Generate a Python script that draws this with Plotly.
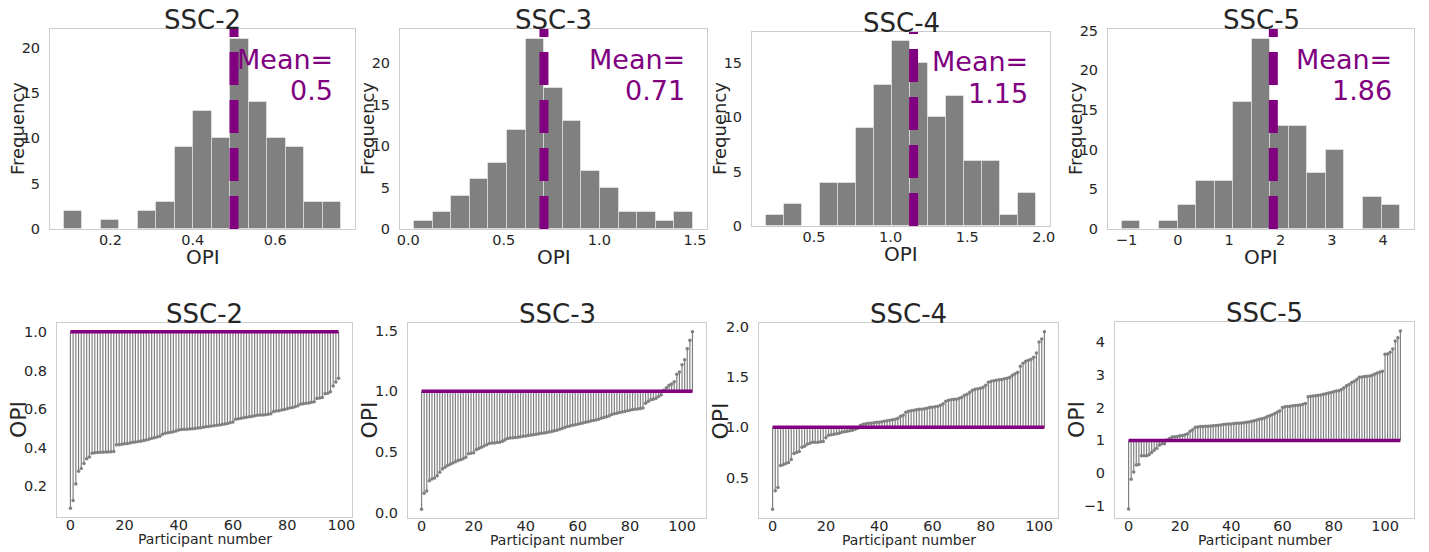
import numpy as np
import plotly.graph_objects as go

# ---------------- data ----------------
names = ["SSC-2", "SSC-3", "SSC-4", "SSC-5"]
mean_values = [0.5, 0.71, 1.15, 1.86]

# histogram counts (15 bins between min and max of each series)
counts_ssc2 = [2, 0, 1, 0, 2, 3, 9, 13, 10, 21, 14, 10, 9, 3, 3]
counts_ssc3 = [1, 2, 4, 6, 8, 12, 23, 17, 13, 7, 5, 2, 2, 1, 2]
counts_ssc4 = [1, 2, 0, 4, 4, 9, 13, 17, 15, 10, 12, 6, 6, 1, 3]
counts_ssc5 = [1, 0, 1, 3, 6, 6, 16, 24, 13, 13, 7, 10, 0, 4, 3]

# sorted OPI per participant
opi_ssc2 = [0.087, 0.127, 0.212, 0.278, 0.292, 0.318, 0.343, 0.352,
            0.372, 0.374, 0.375, 0.376, 0.377, 0.378, 0.378, 0.379, 0.38,
            0.415, 0.416, 0.418, 0.42, 0.422, 0.425, 0.428, 0.43, 0.432, 0.434, 0.437, 0.44, 0.444,
            0.449, 0.452, 0.455, 0.46, 0.47, 0.475, 0.478, 0.48, 0.483, 0.486,
            0.492, 0.494, 0.495, 0.496, 0.497, 0.498, 0.5, 0.502, 0.504, 0.506, 0.508,
            0.51, 0.512, 0.514, 0.516, 0.518, 0.52, 0.523, 0.526, 0.529, 0.533,
            0.548, 0.55, 0.552, 0.555, 0.558, 0.56, 0.562, 0.565, 0.568, 0.569, 0.57, 0.571, 0.573, 0.576,
            0.588, 0.59, 0.592, 0.595, 0.598, 0.602, 0.605, 0.608, 0.612, 0.617,
            0.626, 0.628, 0.63, 0.632, 0.635, 0.638, 0.655, 0.657, 0.66,
            0.68, 0.682, 0.69,
            0.72, 0.74, 0.76]

opi_ssc3 = [0.03,
            0.16, 0.18,
            0.264, 0.278, 0.286, 0.305,
            0.333, 0.36, 0.375, 0.39, 0.40, 0.41,
            0.42, 0.43, 0.436, 0.444, 0.458, 0.486, 0.49, 0.495,
            0.52, 0.53, 0.54, 0.55, 0.56, 0.57, 0.575, 0.575, 0.578, 0.58, 0.59, 0.60,
            0.612, 0.615, 0.618, 0.62, 0.623, 0.626, 0.63, 0.633, 0.636, 0.64, 0.643, 0.646,
            0.65, 0.654, 0.658, 0.662, 0.666, 0.67, 0.675, 0.68, 0.688, 0.695, 0.703,
            0.71, 0.715, 0.72, 0.725, 0.73, 0.735, 0.74, 0.745, 0.75, 0.755, 0.76, 0.765,
            0.77, 0.778, 0.785, 0.79, 0.797,
            0.81, 0.815, 0.82, 0.825, 0.83, 0.835, 0.84, 0.845, 0.85, 0.852, 0.855, 0.858, 0.862,
            0.903, 0.917, 0.93, 0.936, 0.944, 0.958, 0.972,
            1.01, 1.03, 1.05, 1.06, 1.08,
            1.14, 1.16,
            1.22, 1.26,
            1.35,
            1.42, 1.49]

opi_ssc4 = [0.184,
            0.368, 0.40,
            0.62, 0.626, 0.64, 0.648,
            0.68, 0.74, 0.75, 0.76,
            0.80, 0.81, 0.83, 0.84, 0.85, 0.85, 0.852, 0.855, 0.858,
            0.895, 0.92, 0.925, 0.93, 0.935, 0.94, 0.95, 0.955, 0.96, 0.965, 0.97, 0.98, 0.99,
            1.02, 1.03, 1.035, 1.04, 1.04, 1.045, 1.05, 1.05, 1.055, 1.06, 1.065, 1.07, 1.075,
            1.08, 1.09, 1.11, 1.12,
            1.15, 1.16, 1.165, 1.17, 1.175, 1.18, 1.18, 1.185, 1.19, 1.2, 1.2, 1.205, 1.21, 1.22, 1.235,
            1.26, 1.27, 1.275, 1.28, 1.28, 1.29, 1.30, 1.32, 1.33, 1.35,
            1.37, 1.38, 1.385, 1.39, 1.40, 1.42, 1.45, 1.46, 1.465, 1.47, 1.475, 1.478,
            1.485, 1.49, 1.50, 1.52, 1.535, 1.55,
            1.61, 1.64, 1.66, 1.67, 1.68, 1.70,
            1.74,
            1.85, 1.88, 1.952]

opi_ssc5 = [-1.09,
            -0.18,
            0.04, 0.25, 0.27,
            0.53, 0.53, 0.53, 0.56, 0.63, 0.70,
            0.76, 0.85, 0.90, 0.90, 1.01, 1.06,
            1.10, 1.11, 1.12, 1.14, 1.15, 1.17, 1.20, 1.28, 1.32, 1.40, 1.41, 1.42, 1.42, 1.43, 1.43, 1.435,
            1.445, 1.45, 1.46, 1.47, 1.48, 1.49, 1.50, 1.50, 1.51, 1.52, 1.52, 1.53, 1.54, 1.55,
            1.56, 1.58, 1.60, 1.62, 1.64, 1.66, 1.68, 1.72, 1.75, 1.78,
            1.82, 1.86, 1.90, 2.00, 2.02, 2.03, 2.04, 2.05, 2.06, 2.07, 2.08, 2.10, 2.12,
            2.33, 2.34, 2.35, 2.36, 2.37, 2.38, 2.40, 2.42, 2.44, 2.46, 2.48, 2.50, 2.51,
            2.55, 2.60, 2.66, 2.70, 2.76, 2.80, 2.85,
            2.92, 2.93, 2.94, 2.95, 2.96, 2.98, 3.02, 3.05, 3.08, 3.10,
            3.62, 3.63, 3.68, 3.78,
            4.02, 4.12, 4.33]

all_counts = [counts_ssc2, counts_ssc3, counts_ssc4, counts_ssc5]
all_opi = [opi_ssc2, opi_ssc3, opi_ssc4, opi_ssc5]
mean_labels = ["0.5", "0.71", "1.15", "1.86"]

# tick settings
hist_x_dtick = [0.2, 0.5, 0.5, 1]
hist_x_fmt = [".1f", ".1f", ".1f", "d"]
stem_y_dtick = [0.2, 0.5, 0.5, 1]
stem_y_fmt = [".1f", ".1f", ".1f", "d"]

# ---------------- layout constants (page pixels) ----------------
PAGE_W, PAGE_H = 1429, 552
OFF = 8                      # default body margin of the html page
W, H = PAGE_W - OFF, PAGE_H - OFF
TOP = [(50, 355, 29, 229), (400, 707, 29, 229), (752, 1050, 32, 226), (1108, 1414, 29, 229)]
BOT = [(57, 352, 323, 517), (408, 706, 323, 518), (759, 1058, 323, 518), (1115, 1414, 322, 518)]
MEAN_RIGHT = [335, 687, 1030, 1394]

FONT = "DejaVu Sans"
DARK = "#262626"
PURPLE = "#800080"
GRAY = "#808080"


def px(x):
    return (x - OFF) / W


def py(y):
    return 1 - (y - OFF) / H


fig = go.Figure()
layout = {}
annotations = []

axis_common = dict(showgrid=False, zeroline=False, showline=True, linecolor="#cccccc",
                   linewidth=1, mirror=True, ticks="", automargin=False,
                   tickfont=dict(family=FONT, size=14.5, color=DARK))

for k in range(4):
    vals = np.array(all_opi[k], dtype=float)
    cnts = np.array(all_counts[k])
    n = len(vals)
    lo, hi = vals.min(), vals.max()
    edges = np.linspace(lo, hi, len(cnts) + 1)
    centers = (edges[:-1] + edges[1:]) / 2
    bw = edges[1] - edges[0]

    # ---- top: histogram ----
    ta = k + 1
    xa, ya = f"x{ta}", f"y{ta}"
    ymax = cnts.max() * 1.05
    fig.add_trace(go.Bar(x=centers, y=cnts, width=bw, xaxis=xa, yaxis=ya,
                         marker=dict(color=GRAY, line=dict(color="rgba(255,255,255,0.45)", width=1)),
                         showlegend=False))
    fig.add_trace(go.Scatter(x=[mean_values[k], mean_values[k]], y=[0, ymax], xaxis=xa, yaxis=ya,
                             mode="lines", line=dict(color=PURPLE, width=9, dash="33px,15px"),
                             showlegend=False))
    l, r, t, b = TOP[k]
    span = hi - lo
    layout[f"xaxis{ta}"] = dict(axis_common, domain=[px(l), px(r)], anchor=ya,
                                range=[lo - 0.05 * span, hi + 0.05 * span],
                                dtick=hist_x_dtick[k], tick0=0, tickformat=hist_x_fmt[k],
                                ticklabelstandoff=-2)
    layout[f"yaxis{ta}"] = dict(axis_common, domain=[py(b), py(t)], anchor=xa,
                                range=[0, ymax], dtick=5, tick0=0, ticklabelstandoff=6)
    cx = (l + r) / 2
    annotations += [
        dict(text=names[k], x=px(cx), y=py(t - 9), xref="paper", yref="paper",
             xanchor="center", yanchor="middle", showarrow=False,
             font=dict(family=FONT, size=26, color=DARK)),
        dict(text="OPI", x=px(cx), y=py(b + 28), xref="paper", yref="paper",
             xanchor="center", yanchor="middle", showarrow=False,
             font=dict(family=FONT, size=20, color=DARK)),
        dict(text="Frequency", x=px(l - 33), y=py((t + b) / 2), xref="paper", yref="paper",
             xanchor="center", yanchor="middle", textangle=-90, showarrow=False,
             font=dict(family=FONT, size=18, color=DARK)),
        dict(text="Mean=", x=px(MEAN_RIGHT[k]), y=py(t + 30), xref="paper", yref="paper",
             xanchor="right", yanchor="middle", showarrow=False,
             font=dict(family=FONT, size=27, color=PURPLE)),
        dict(text=mean_labels[k], x=px(MEAN_RIGHT[k]), y=py(t + 61), xref="paper", yref="paper",
             xanchor="right", yanchor="middle", showarrow=False,
             font=dict(family=FONT, size=27, color=PURPLE)),
    ]

    # ---- bottom: stem plot ----
    ba = k + 5
    xb, yb = f"x{ba}", f"y{ba}"
    idx = np.arange(n)
    sx, sy = [], []
    for i, v in zip(idx, vals):
        sx += [i, i, None]
        sy += [1.0, v, None]
    fig.add_trace(go.Scatter(x=sx, y=sy, xaxis=xb, yaxis=yb, mode="lines",
                             line=dict(color=GRAY, width=1.2), showlegend=False))
    fig.add_trace(go.Scatter(x=idx, y=vals, xaxis=xb, yaxis=yb, mode="markers",
                             marker=dict(color=GRAY, size=3.5), showlegend=False))
    fig.add_trace(go.Scatter(x=[idx[0], idx[-1]], y=[1.0, 1.0], xaxis=xb, yaxis=yb, mode="lines",
                             line=dict(color=PURPLE, width=3.5), showlegend=False))
    l, r, t, b = BOT[k]
    lo2, hi2 = min(lo, 1.0), max(hi, 1.0)
    pad = 0.05 * (hi2 - lo2)
    layout[f"xaxis{ba}"] = dict(axis_common, domain=[px(l), px(r)], anchor=yb,
                                range=[-0.05 * (n - 1), 1.05 * (n - 1)], dtick=20, tick0=0,
                                ticklabelstandoff=-5)
    layout[f"yaxis{ba}"] = dict(axis_common, domain=[py(b), py(t)], anchor=xb,
                                range=[lo2 - pad, hi2 + pad], dtick=stem_y_dtick[k], tick0=0,
                                tickformat=stem_y_fmt[k], ticklabelstandoff=6)
    cx = (l + r) / 2
    annotations += [
        dict(text=names[k], x=px(cx), y=py(t - 9), xref="paper", yref="paper",
             xanchor="center", yanchor="middle", showarrow=False,
             font=dict(family=FONT, size=26, color=DARK)),
        dict(text="Participant number", x=px(cx), y=py(b + 22), xref="paper", yref="paper",
             xanchor="center", yanchor="middle", showarrow=False,
             font=dict(family=FONT, size=14, color=DARK)),
        dict(text="OPI", x=px(l - 39), y=py((t + b) / 2), xref="paper", yref="paper",
             xanchor="center", yanchor="middle", textangle=-90, showarrow=False,
             font=dict(family=FONT, size=22, color=DARK)),
    ]

fig.update_layout(width=W, height=H, margin=dict(l=0, r=0, t=0, b=0),
                  paper_bgcolor="white", plot_bgcolor="white",
                  showlegend=False, bargap=0, annotations=annotations,
                  font=dict(family=FONT, color=DARK), **layout)

fig.write_html("out.html")
